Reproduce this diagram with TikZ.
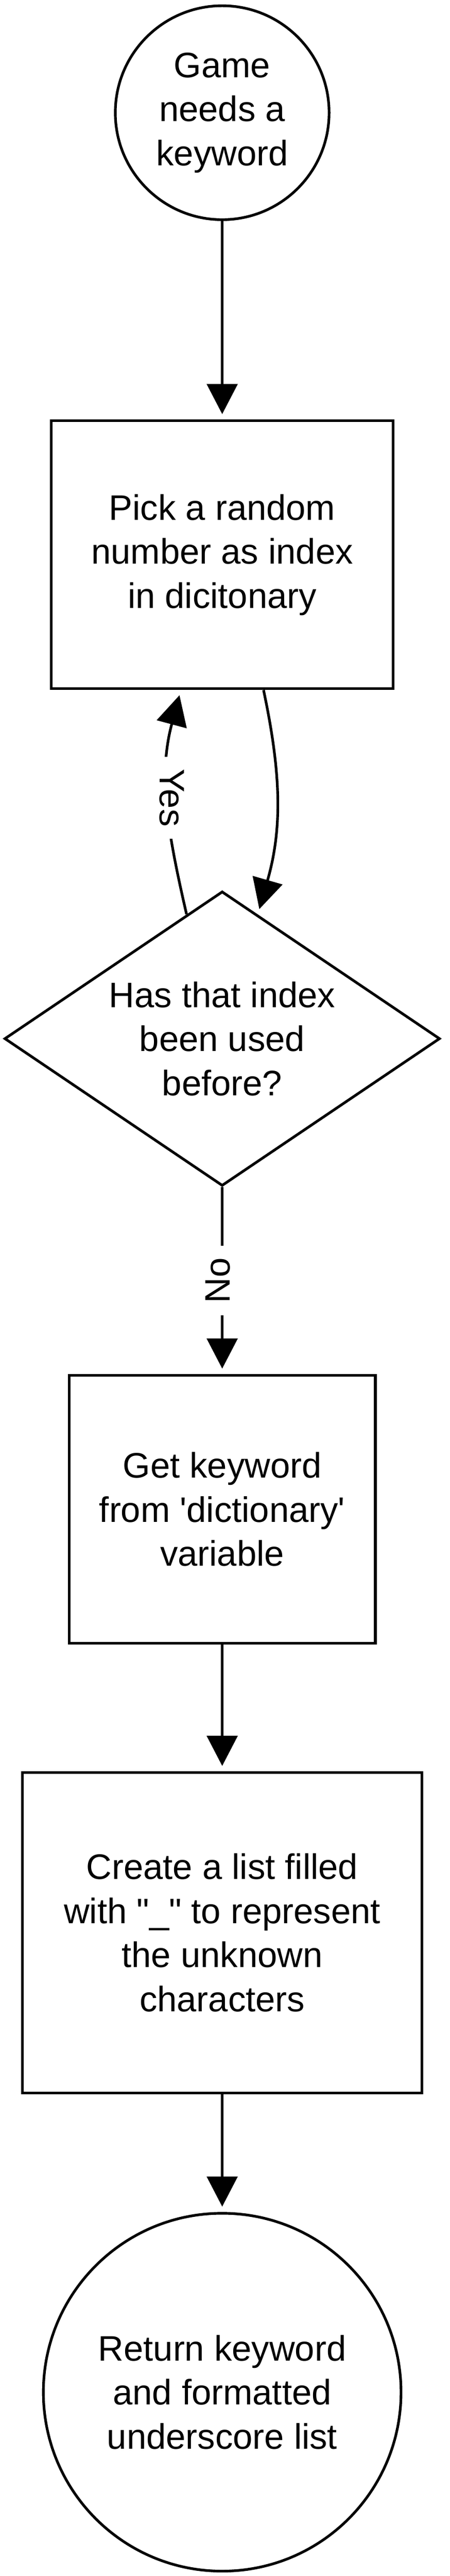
\documentclass[tikz,border=0pt]{standalone}
\usepackage{fontspec}
\setmainfont{Liberation Sans}
\usepackage{tikz}
\usetikzlibrary{arrows.meta,shapes.geometric}
\tikzset{
>={Triangle[length=13.6pt,width=13.8pt]},
node distance=200pt,
cerchio/.style={circle,draw,line width=1.2pt,inner sep=0pt,align=center},
blocco/.style={rectangle,draw,line width=1.2pt,inner sep=0pt,align=center},
rombo/.style={diamond,draw,line width=1.2pt,inner sep=0pt,align=center,shape aspect=1.5,minimum width=196.8pt,minimum height=133pt},
freccia/.style={->,shorten >=2.4pt,line width=1.2pt},
etichetta/.style={fill=white,inner xsep=5.5pt,inner ysep=1pt,text depth=4pt}}

\begin{document}
\begin{tikzpicture}[font=\fontsize{16pt}{19.9pt}\selectfont]

\useasboundingbox (-100.4pt,50.9pt) rectangle (102.8pt,-1112.3pt);

\node (1) [cerchio,minimum size=96.6pt] {Game\\needs a\\keyword};
\node (2) [blocco,node distance=199.6pt,below of=1,minimum width=154.4pt,minimum height=121pt] {Pick a random\\number as index\\in dicitonary};
\node (3) [rombo,node distance=218.5pt,below of=2] {Has that index\\been used\\before?};
\node (4) [blocco,node distance=212.5pt,below of=3,minimum width=138.4pt,minimum height=121pt] {Get keyword\\from \textquotesingle dictionary\textquotesingle\\variable};
\node (5) [blocco,node distance=191.2pt,below of=4,minimum width=180.4pt,minimum height=144.6pt] {Create a list filled\\with \textquotedbl\_\textquotedbl{} to represent\\the unknown\\characters};
\node (6) [cerchio,node distance=207.5pt,below of=5,minimum size=161.6pt] {Return keyword\\and formatted\\underscore list};

\path[freccia] (1) edge (2) (3) edge node[etichetta,rotate=90] {No} (4) (4) edge (5) (5) edge (6);
\path[freccia] (2.-73) edge[out=-78,in=74] (3.74);
\path[freccia] (3.106) edge[out=103,in=-105] node[etichetta,rotate=-90,pos=0.52] {Yes} (2.-107);

\end{tikzpicture}
\end{document}
